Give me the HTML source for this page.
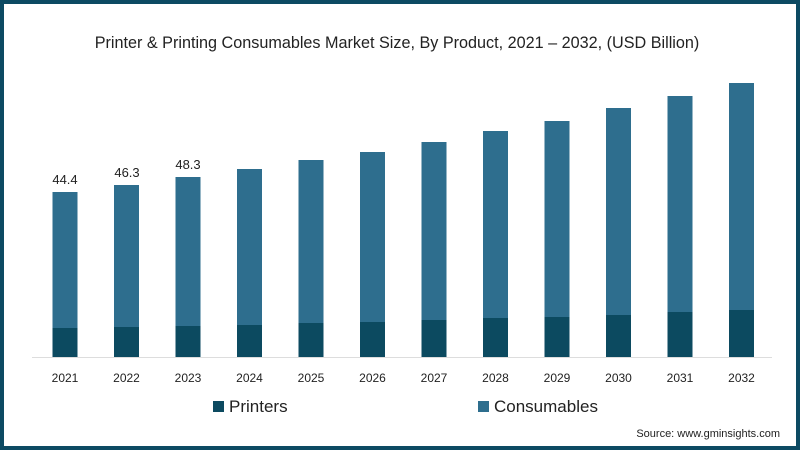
<!DOCTYPE html>
<html><head><style>
body{margin:0;width:800px;height:450px;overflow:hidden;background:#fff;font-family:"Liberation Sans",sans-serif}
.frame{position:absolute;left:0;top:0;width:792px;height:442px;border:4px solid #0d4a63;background:#fff}
</style></head><body>
<div class="frame"></div>
<svg width="800" height="450" style="position:absolute;left:0;top:0" font-family="Liberation Sans, sans-serif">
<text x="397" y="48" text-anchor="middle" font-size="16.2" fill="#222">Printer &amp; Printing Consumables Market Size, By Product, 2021 – 2032, (USD Billion)</text>
<line x1="32" y1="357.5" x2="772" y2="357.5" stroke="#ddd" stroke-width="1"/>
<g id="bars"></g>
<text x="65" y="184" text-anchor="middle" font-size="13" fill="#222">44.4</text>
<text x="127" y="177" text-anchor="middle" font-size="13" fill="#222">46.3</text>
<text x="188" y="169" text-anchor="middle" font-size="13" fill="#222">48.3</text>
<rect x="213" y="401" width="11" height="11" fill="#0c4a60"/>
<text x="229" y="412" font-size="17" fill="#222">Printers</text>
<rect x="478" y="401" width="11" height="11" fill="#2e6e8e"/>
<text x="494" y="412" font-size="17" fill="#222">Consumables</text>
<text x="780" y="437" text-anchor="end" font-size="11" fill="#222">Source: www.gminsights.com</text>
</svg>
<script>
var tops=[192,185,177,169,160,152,142,131,121,108,96,83];
var pt=[328,327,326,325,323,322,320,318,317,315,312,310];
var g=document.getElementById('bars'),s='';
for(var i=0;i<12;i++){var c=65+i*61.5,x=c-12.5;
s+='<rect x="'+x+'" y="'+tops[i]+'" width="25" height="'+(357-tops[i])+'" fill="#2e6e8e"/>';
s+='<rect x="'+x+'" y="'+pt[i]+'" width="25" height="'+(357-pt[i])+'" fill="#0c4a60"/>';
s+='<text x="'+c+'" y="382" text-anchor="middle" font-size="12" fill="#222">'+(2021+i)+'</text>';}
g.innerHTML=s;
</script>
</body></html>
